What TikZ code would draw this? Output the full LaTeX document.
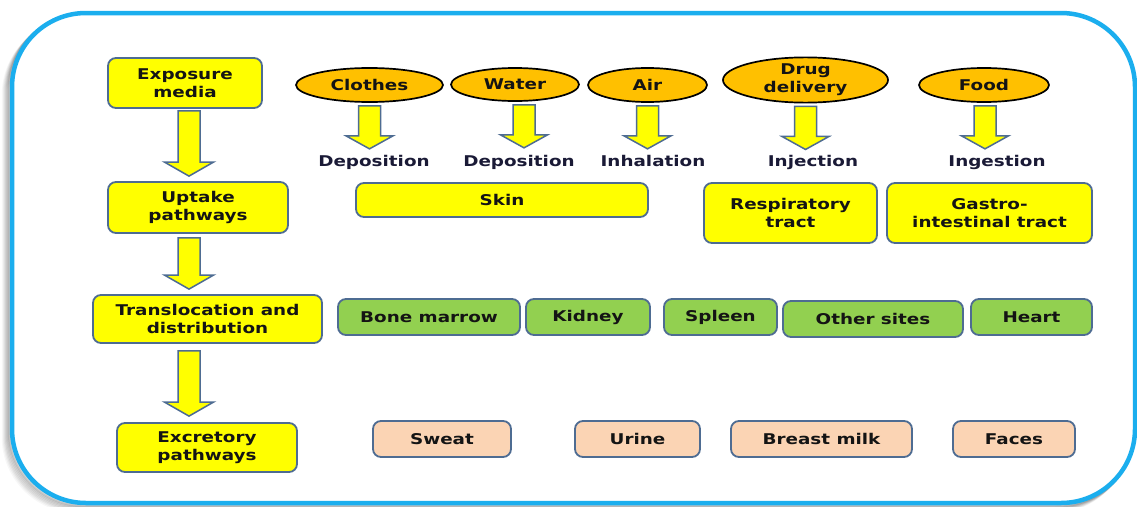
\documentclass[tikz,border=0pt]{standalone}
\usepackage{fontspec}
\setmainfont{DejaVu Sans}[FakeStretch=1.24]
\usetikzlibrary{shapes.geometric,calc}
\definecolor{frameblue}{HTML}{1BAEEE}
\definecolor{boxedge}{HTML}{4E6C92}
\definecolor{yel}{HTML}{FFFF00}
\definecolor{orn}{HTML}{FFC000}
\definecolor{grn}{HTML}{92D050}
\definecolor{pch}{HTML}{FBD4B4}
\definecolor{txt}{HTML}{141414}
\definecolor{lblc}{HTML}{1A1A36}
\tikzset{
  every node/.style={font=\bfseries\fontsize{14.8}{18}\selectfont, text=txt, align=center},
  rbox/.style={draw=boxedge, line width=1.8pt, rounded corners=8pt, inner sep=0pt},
  ybox/.style={rbox, fill=yel},
  gbox/.style={rbox, fill=grn},
  pbox/.style={rbox, fill=pch},
  media/.style={ellipse, draw=black, line width=1.7pt, fill=orn, inner sep=0pt},
  lbl/.style={text=lblc, inner sep=0pt, anchor=base},
  blockarr/.style={draw=boxedge, line width=1.5pt, fill=yel, line join=miter},
  framestyle/.style={rounded corners=74pt, line width=4.5pt},
}
\newcommand\blkarrow[5]{%
  \draw[blockarr] let \p1=#1, \p2=#2 in
  (\x2-#3,\y1) -- (\x2+#3,\y1) -- (\x2+#3,\y2+#5) -- (\x2+#4,\y2+#5) --
  (\x2,\y2) -- (\x2-#4,\y2+#5) -- (\x2-#3,\y2+#5) -- cycle;}
\begin{document}
\begin{tikzpicture}[x=1pt,y=-1pt]
\useasboundingbox (0,0) rectangle (1137,506);
% frame shadow
\foreach \k/\o in {8/0.03,7/0.04,6/0.05,5/0.06,4/0.07,3/0.08,2/0.1}
  \draw[framestyle, black, opacity=\o] (12-\k,13+\k) rectangle (1135-\k,503+\k);
\fill[white, rounded corners=74pt] (12,13) rectangle (1135,503);
\draw[framestyle, frameblue] (12,13) rectangle (1135,503);

% left column
\node[ybox, minimum width=154pt, minimum height=50pt] (exp) at (185,83) {Exposure\\media};
\node[ybox, minimum width=180pt, minimum height=51pt] (upt) at (198,207.5) {Uptake\\pathways};
\node[ybox, minimum width=229pt, minimum height=48pt] (tra) at (207.5,319) {Translocation and\\distribution};
\node[ybox, minimum width=180pt, minimum height=49pt] (exc) at (207,447.5) {Excretory\\pathways};
\coordinate (colx) at (189,0);

\blkarrow{($(colx |- exp.south)+(0,2)$)}{($(colx |- upt.north)+(0,-5)$)}{11pt}{24.5pt}{14pt}
\blkarrow{($(colx |- upt.south)+(0,4)$)}{($(colx |- tra.north)+(0,-5)$)}{11pt}{24.5pt}{14pt}
\blkarrow{($(colx |- tra.south)+(0,7)$)}{($(colx |- exc.north)+(0,-6)$)}{11pt}{24.5pt}{14pt}

% exposure media
\node[media, minimum width=147pt, minimum height=34pt] (clo) at (369.5,85) {Clothes};
\node[media, minimum width=128pt, minimum height=33pt] (wat) at (515,84.5) {Water};
\node[media, minimum width=119pt, minimum height=34pt] (air) at (647.5,85) {Air};
\node[media, minimum width=165pt, minimum height=44pt] (drg) at (805.5,80) {Drug\\delivery};
\node[media, minimum width=130pt, minimum height=34pt] (fod) at (984,85) {Food};

% route labels
\node[lbl] (dep1) at (374,166) {Deposition};
\node[lbl] (dep2) at (519,166) {Deposition};
\node[lbl] (inh) at (653,166) {Inhalation};
\node[lbl] (inj) at (813,166) {Injection};
\node[lbl] (ing) at (997,166) {Ingestion};

\blkarrow{($(clo.south)+(0,3)$)}{($(clo.south)+(0,46)$)}{11pt}{23.5pt}{13pt}
\blkarrow{($(wat.south)+(9,3)$)}{($(wat.south)+(9,46)$)}{11pt}{23.5pt}{13pt}
\blkarrow{($(air.south)+(0,3)$)}{($(air.south)+(0,46)$)}{11pt}{23.5pt}{13pt}
\blkarrow{($(drg.south)+(0,3)$)}{($(drg.south)+(0,46)$)}{11pt}{23.5pt}{13pt}
\blkarrow{($(fod.south)+(1,3)$)}{($(fod.south)+(1,46)$)}{11pt}{23.5pt}{13pt}

% uptake organs
\node[ybox, minimum width=292pt, minimum height=34pt] (skin) at (502,200) {Skin};
\node[ybox, minimum width=173pt, minimum height=60pt] (resp) at (790.5,213) {Respiratory\\tract};
\node[ybox, minimum width=205pt, minimum height=60pt] (gast) at (989.5,213) {Gastro-\\intestinal tract};

% distribution sites
\node[gbox, minimum width=182pt, minimum height=36pt] (bone) at (429,317) {Bone marrow};
\node[gbox, minimum width=124pt, minimum height=36pt] (kid) at (588,317) {Kidney};
\node[gbox, minimum width=113pt, minimum height=36pt] (spl) at (720.5,317) {Spleen};
\node[gbox, minimum width=180pt, minimum height=36pt] (oth) at (873,319) {Other sites};
\node[gbox, minimum width=121pt, minimum height=36pt] (hea) at (1031.5,317) {Heart};

% excretion
\node[pbox, minimum width=138pt, minimum height=36pt] (swe) at (442,439) {Sweat};
\node[pbox, minimum width=125pt, minimum height=36pt] (uri) at (637.5,439) {Urine};
\node[pbox, minimum width=181pt, minimum height=36pt] (bre) at (821.5,439) {Breast milk};
\node[pbox, minimum width=122pt, minimum height=36pt] (fac) at (1014,439) {Faces};
\end{tikzpicture}
\end{document}
